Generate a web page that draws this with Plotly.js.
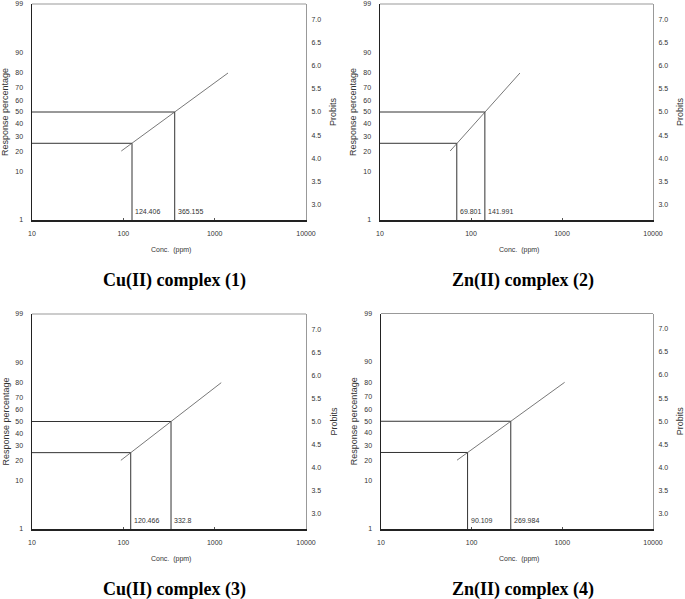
<!DOCTYPE html>
<html>
<head>
<meta charset="utf-8">
<script src="https://cdn.plot.ly/plotly-3.0.1.min.js"></script>
<style>html,body{margin:0;padding:0;background:#fff;}#chart{width:685px;height:599px;}</style>
</head>
<body>
<div id="chart"></div>
<script>
// ---- data ----
const panelTitles = ['Cu(II) complex (1)', 'Zn(II) complex (2)', 'Cu(II) complex (3)', 'Zn(II) complex (4)'];
const lc25 = [124.406, 69.801, 120.466, 90.109];
const lc50 = [365.155, 141.991, 332.8, 269.984];
const lc25Labels = ['124.406', '69.801', '120.466', '90.109'];
const lc50Labels = ['365.155', '141.991', '332.8', '269.984'];
// fitted probit line end points (conc., ppm)
const fitStart = [95, 59, 94, 69];
const fitEnd = [1400, 345, 1180, 1060];
const fitProbits = [4.16, 5.84];        // 20 % .. 80 %
const probit25 = 4.326;                 // 25 %
const probit50 = 5.0;                   // 50 %
// left axis: response percentage placed at its probit
const pctTickText = ['1', '10', '20', '30', '40', '50', '60', '70', '80', '90', '99'];
const pctTickProbit = [2.674, 3.718, 4.158, 4.476, 4.747, 5.0, 5.253, 5.524, 5.842, 6.282, 7.326];
// right axis: probits
const probitTicks = [3.0, 3.5, 4.0, 4.5, 5.0, 5.5, 6.0, 6.5, 7.0];
const probitTickText = ['3.0', '3.5', '4.0', '4.5', '5.0', '5.5', '6.0', '6.5', '7.0'];
const concTicks = [10, 100, 1000, 10000];
const concTickText = ['10', '100', '1000', '10000'];

// ---- layout geometry ----
const W = 685, H = 599;
const xDomains = [[32 / W, 306 / W], [380 / W, 653 / W], [32 / W, 306 / W], [381 / W, 653 / W]];
const yDomains = [[1 - 220 / H, 1 - 4 / H], [1 - 220 / H, 1 - 4 / H], [1 - 529 / H, 1 - 314 / H], [1 - 529 / H, 1 - 313.5 / H]];
const yRange = [2.674, 7.326];
const tickFont = {family: 'Arial, Liberation Sans, sans-serif', size: 7, color: '#333'};
const titleFont = {family: 'Arial, Liberation Sans, sans-serif', size: 9, color: '#333'};

const traces = [];
const layout = {
  width: W, height: H,
  margin: {l: 0, r: 0, t: 0, b: 0},
  paper_bgcolor: '#fff', plot_bgcolor: '#fff',
  showlegend: false,
  annotations: [], shapes: []
};

for (let i = 0; i < 4; i++) {
  const n = i + 1;
  const xs = n === 1 ? '' : String(n);
  const yl = 2 * i + 1, yr = 2 * i + 2;
  const ylS = yl === 1 ? '' : String(yl);
  const xName = 'x' + xs, ylName = 'y' + ylS, yrName = 'y' + yr;

  layout['xaxis' + xs] = {
    type: 'log', range: [1, 4], domain: xDomains[i], anchor: ylName,
    tickvals: concTicks, ticktext: concTickText, tickfont: tickFont,
    ticks: 'inside', ticklen: 2, tickcolor: '#555', ticklabelstandoff: 6,
    showgrid: false, zeroline: false, showline: true, linecolor: '#222', linewidth: 1.5,
    fixedrange: true
  };
  layout['yaxis' + ylS] = {
    range: yRange, domain: yDomains[i], anchor: xName,
    tickvals: pctTickProbit, ticktext: pctTickText, tickfont: tickFont,
    ticks: '', ticklabelstandoff: 6,
    showgrid: false, zeroline: false, showline: true, linecolor: '#222', linewidth: 1.5,
    fixedrange: true
  };
  layout['yaxis' + yr] = {
    range: yRange, domain: yDomains[i], anchor: xName, overlaying: ylName, side: 'right',
    tickvals: probitTicks, ticktext: probitTickText, tickfont: tickFont,
    ticks: '', ticklabelstandoff: 3,
    showgrid: false, zeroline: false, showline: true, linecolor: '#999', linewidth: 1,
    fixedrange: true
  };

  // top border
  layout.shapes.push({type: 'line', xref: xName + ' domain', yref: ylName + ' domain',
    x0: 0, x1: 1, y0: 1, y1: 1, line: {color: '#999', width: 1}});

  // 50 % level: horizontal then vertical
  traces.push({x: [10, lc50[i], lc50[i]], y: [probit50, probit50, yRange[0]],
    xaxis: xName, yaxis: ylName, mode: 'lines', line: {color: '#333', width: 1}, hoverinfo: 'skip'});
  // 25 % level
  traces.push({x: [10, lc25[i], lc25[i]], y: [probit25, probit25, yRange[0]],
    xaxis: xName, yaxis: ylName, mode: 'lines', line: {color: '#333', width: 1}, hoverinfo: 'skip'});
  // fitted probit line
  traces.push({x: [fitStart[i], fitEnd[i]], y: fitProbits,
    xaxis: xName, yaxis: ylName, mode: 'lines', line: {color: '#555', width: 0.8}, hoverinfo: 'skip'});
  // dummy trace so the right axis is drawn
  traces.push({x: [10], y: [5], xaxis: xName, yaxis: yrName, mode: 'markers',
    marker: {opacity: 0}, hoverinfo: 'skip'});

  // value labels next to the vertical lines
  layout.annotations.push({x: Math.log10(lc25[i]), y: 0, xref: xName, yref: ylName + ' domain',
    text: lc25Labels[i], showarrow: false, xanchor: 'left', yanchor: 'bottom', xshift: 1, yshift: 3, font: tickFont});
  layout.annotations.push({x: Math.log10(lc50[i]), y: 0, xref: xName, yref: ylName + ' domain',
    text: lc50Labels[i], showarrow: false, xanchor: 'left', yanchor: 'bottom', xshift: 1, yshift: 3, font: tickFont});

  const cx = (xDomains[i][0] + xDomains[i][1]) / 2;
  const topPx = (1 - yDomains[i][1]) * H, botPx = (1 - yDomains[i][0]) * H;
  // x axis title
  layout.annotations.push({x: cx + 2 / W, y: 1 - (botPx + 30) / H, xref: 'paper', yref: 'paper',
    text: 'Conc.&nbsp;&nbsp;(ppm)', showarrow: false, xanchor: 'center', yanchor: 'middle', font: {family: tickFont.family, size: 7, color: '#333'}});
  // left y title
  const midY = 1 - ((topPx + botPx) / 2) / H;
  layout.annotations.push({x: (xDomains[i][0] * W - 27) / W, y: midY, xref: 'paper', yref: 'paper',
    text: 'Response percentage', showarrow: false, textangle: -90, xanchor: 'center', yanchor: 'middle', font: titleFont});
  // right y title
  layout.annotations.push({x: (xDomains[i][1] * W + 27) / W, y: midY, xref: 'paper', yref: 'paper',
    text: 'Probits', showarrow: false, textangle: -90, xanchor: 'center', yanchor: 'middle', font: titleFont});
  // panel caption
  layout.annotations.push({x: cx + 6 / W, y: 1 - (botPx + 60) / H, xref: 'paper', yref: 'paper',
    text: '<b>' + panelTitles[i] + '</b>', showarrow: false, xanchor: 'center', yanchor: 'middle',
    font: {family: 'Liberation Serif, Times New Roman, serif', size: 18, color: '#000'}});
}

Plotly.newPlot('chart', traces, layout, {displayModeBar: false, staticPlot: true});
</script>
</body>
</html>
